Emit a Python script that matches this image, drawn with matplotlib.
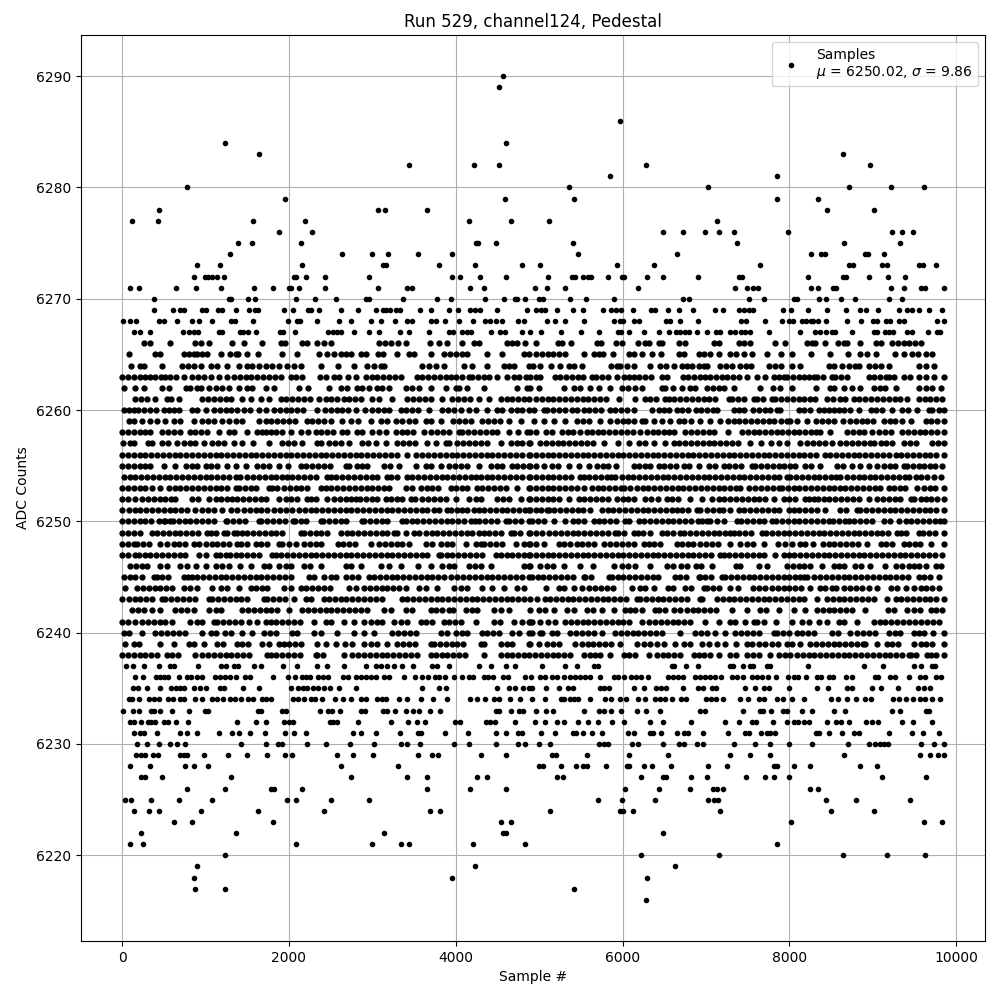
from matplotlib import pyplot as plt
import numpy as np

# sample positions, one list per ADC level
s6290 = [4568]
s6289 = [4520]
s6286 = [5964]
s6284 = [1232, 4604]
s6283 = [1640, 8640]
s6282 = [3440, 4220, 4520, 6276, 8964]
s6281 = [5844, 7848]
s6280 = [776, 5352, 7020, 8712, 9216, 9612]
s6279 = [1952, 4592, 5412, 7848, 8340]
s6278 = [440, 3068, 3152, 3656, 8448, 9012]
s6277 = [116, 428, 1568, 2192, 4160, 4664, 5112, 7128]
s6276 = [1880, 2276, 6480, 6720, 6984, 7152, 7332, 7980, 9228, 9348, 9480]
s6275 = [1388, 1556, 2144, 4244, 4268, 4484, 5400, 7368, 8652, 9324]
s6274 = [1292, 2636, 2996, 3188, 3548, 3956, 5460, 6648, 8256, 8376, 8424, 8904, 8940, 9132]
s6273 = [896, 1172, 2156, 3128, 3164, 3800, 4232, 4796, 5004, 5928, 6372, 7644, 8712, 8760,
         9108, 9168, 9552, 9600, 9756]
s6272 = [860, 992, 1028, 1076, 1136, 1220, 2060, 2084, 2204, 2432, 2960, 3956, 4052, 4292, 4604,
         5100, 5388, 5424, 5520, 5580, 5616, 5820, 5988, 6012, 6288, 6480, 6900, 7392, 7428,
         8220, 8640, 8676, 8952, 9180, 9384]
s6271 = [92, 200, 644, 884, 1184, 1580, 1808, 2000, 2028, 2120, 2432, 3068, 3416, 3476, 4172, 4340,
         4944, 5088, 5304, 6180, 7344, 7488, 7560, 7620, 8256, 8340, 8520, 8556, 9216, 9372,
         9576, 9624, 9850]
s6270 = [380, 1280, 1304, 1508, 1592, 2084, 2312, 2564, 2924, 2960, 3368, 3776, 3944, 4352, 4580,
         4712, 4736, 4832, 4992, 5040, 5364, 5556, 5892, 6720, 6792, 7512, 7692, 8052, 8088,
         8352, 8436, 8616, 8784, 9192, 9348]
s6269 = [380, 612, 692, 740, 956, 1004, 1148, 1196, 1364, 1520, 1592, 1628, 1940, 2048, 2228, 2264,
         2360, 2624, 2828, 3044, 3128, 3164, 3212, 3284, 3332, 3572, 3704, 3920, 4028, 4172,
         4232, 4292, 4496, 4860, 4956, 5016, 5064, 5208, 5400, 5520, 5760, 5856, 5916, 5976,
         6120, 6336, 6384, 6540, 6672, 6840, 7104, 7200, 7392, 7452, 7512, 7560, 7920, 8016,
         8220, 8448, 8676, 8844, 8916, 9060, 9312, 9408, 9468, 9552, 9672, 9828]
s6268 = [12, 92, 164, 440, 500, 656, 836, 920, 1076, 1304, 1352, 1568, 1988, 2096, 2132, 2336, 2600,
         2744, 2984, 3104, 3272, 3416, 3476, 3704, 3764, 3872, 4040, 4208, 4352, 4412, 4484,
         4556, 4748, 4820, 5088, 5184, 5304, 5532, 5892, 5964, 6000, 6132, 6192, 6516, 6564,
         6684, 6900, 7416, 7476, 7704, 7908, 7992, 8040, 8148, 8196, 8256, 8280, 8340, 8436,
         8688, 8856, 9000, 9048, 9156, 9204, 9312, 9372, 9768, 9850]
s6267 = [140, 212, 332, 728, 800, 860, 908, 1160, 1196, 1412, 1448, 1508, 1604, 1892, 1928, 2072,
         2468, 2528, 2576, 2624, 2780, 2960, 3080, 3332, 3440, 3680, 3920, 3968, 4076, 4136,
         4184, 4424, 4532, 4592, 4796, 4896, 5016, 5256, 5496, 5712, 5940, 5976, 6072, 6252,
         6432, 6552, 6636, 6684, 6744, 6792, 6888, 7008, 7116, 7164, 7284, 7344, 7416, 7464,
         7524, 7752, 8124, 8304, 8364, 8436, 8508, 8544, 8748, 9012, 9048, 9144, 9192, 9240,
         9408, 9468, 9660, 9768, 9804]
s6266 = [260, 340, 572, 880, 940, 1040, 1316, 1460, 1676, 1900, 1948, 2160, 2220, 2340, 2420, 2500,
         3080, 3150, 3220, 3308, 3400, 3692, 3800, 3900, 4076, 4220, 4280, 4612, 4680, 4740,
         4832, 4964, 5220, 5272, 5376, 5692, 5740, 5924, 5992, 6180, 6272, 6312, 6432, 6472,
         6672, 6744, 7092, 7152, 7392, 7460, 7532, 7824, 7944, 8212, 8270, 8312, 8432, 8580,
         8650, 8692, 8844, 9032, 9092, 9232, 9300, 9368, 9436, 9504, 9572]
s6265 = [80, 400, 460, 740, 800, 860, 900, 960, 1020, 1180, 1292, 1360, 1388, 1492, 1632, 1920, 2100,
         2360, 2452, 2540, 2628, 2690, 2740, 2860, 2920, 3068, 3132, 3300, 3440, 3500, 3700,
         3860, 3930, 4000, 4070, 4140, 4380, 4560, 4820, 4880, 4960, 5030, 5100, 5170, 5232,
         5312, 5540, 5652, 5720, 5764, 5880, 6072, 6140, 6232, 6352, 6460, 6672, 6740, 6912,
         6980, 7050, 7152, 7292, 7360, 7452, 7556, 7732, 7900, 8032, 8260, 8484, 8700, 8852,
         8930, 9032, 9264, 9372, 9472, 9540, 9632, 9704]
s6264 = [108, 220, 260, 480, 720, 790, 860, 940, 1060, 1132, 1252, 1400, 1500, 1560, 1640, 1720, 1800,
         1880, 1980, 2060, 2140, 2380, 2588, 2780, 2940, 3020, 3100, 3140, 3600, 3680, 3760,
         3860, 4100, 4200, 4380, 4580, 4640, 4700, 4880, 4924, 5004, 5140, 5252, 5352, 5420,
         5512, 5864, 5932, 5972, 6050, 6132, 6332, 6452, 6524, 6612, 6712, 6772, 6832, 6912,
         6980, 7012, 7172, 7240, 7312, 7404, 7480, 7540, 7752, 7832, 7900, 8032, 8124, 8472,
         8540, 8632, 8712, 8790, 8832, 8952, 9020, 9100, 9192, 9552, 9632, 9732]
s6263 = [0, 70, 140, 210, 280, 340, 400, 470, 520, 580, 650, 740, 840, 910, 980, 1060, 1160, 1260,
         1340, 1410, 1480, 1550, 1620, 1690, 1760, 1830, 1900, 2020, 2080, 2160, 2372, 2440,
         2540, 2600, 2708, 2808, 2920, 2990, 3060, 3130, 3200, 3270, 3340, 3532, 3600, 3670,
         3740, 3810, 3880, 3940, 4000, 4080, 4160, 4200, 4270, 4340, 4400, 4500, 4620, 4700,
         4760, 4840, 4892, 4960, 5012, 5192, 5252, 5320, 5390, 5460, 5530, 5632, 5684, 5750,
         5820, 5932, 6012, 6072, 6132, 6200, 6270, 6340, 6472, 6532, 6724, 6790, 6860, 6930,
         6992, 7052, 7120, 7192, 7252, 7320, 7390, 7492, 7612, 7712, 7812, 7880, 7932, 7972,
         8040, 8110, 8180, 8240, 8292, 8332, 8400, 8512, 8552, 8620, 8692, 8952, 9012, 9080,
         9152, 9192, 9252, 9372, 9440, 9552, 9632, 9732, 9852]
s6262 = [20, 160, 260, 480, 560, 772, 820, 900, 940, 1040, 1120, 1200, 1280, 1400, 1500, 1560, 1720,
         1820, 2120, 2228, 2480, 2620, 2700, 2820, 2880, 2960, 3060, 3120, 3200, 3400, 3480,
         3560, 3700, 3880, 4000, 4040, 4140, 4340, 4740, 4860, 4892, 4992, 5292, 5412, 5484,
         5612, 5712, 5852, 5992, 6060, 6152, 6232, 6472, 6512, 6604, 6712, 6812, 6872, 7012,
         7080, 7150, 7220, 7332, 7644, 7804, 7892, 8032, 8320, 8492, 8540, 8652, 8752, 8852,
         9012, 9080, 9150, 9272, 9552, 9632, 9712, 9820]
s6261 = [160, 230, 300, 400, 540, 588, 688, 960, 1030, 1100, 1170, 1240, 1310, 1440, 1540, 1660, 1760,
         1900, 1970, 2040, 2110, 2180, 2250, 2360, 2440, 2510, 2580, 2660, 2720, 2790, 2860,
         3000, 3080, 3240, 3420, 3490, 3560, 3630, 3700, 3840, 3960, 4030, 4100, 4170, 4280,
         4400, 4540, 4610, 4680, 4750, 4820, 4880, 4960, 5030, 5100, 5170, 5240, 5310, 5380,
         5450, 5520, 5590, 5660, 5730, 5800, 5952, 6152, 6272, 6332, 6400, 6512, 6552, 6620,
         6690, 6760, 6830, 6900, 6970, 7040, 7110, 7272, 7312, 7380, 7450, 7572, 7612, 7680,
         7792, 7832, 7900, 7970, 8040, 8110, 8180, 8250, 8312, 8452, 8520, 8612, 8672, 8772,
         8840, 8910, 8980, 9050, 9120, 9190, 9260, 9330, 9412, 9552, 9620, 9690, 9752, 9832]
s6260 = [20, 80, 140, 188, 260, 330, 410, 500, 560, 620, 680, 840, 900, 1000, 1100, 1170, 1240, 1310,
         1380, 1460, 1532, 1640, 1720, 1820, 1890, 1960, 2030, 2100, 2170, 2340, 2428, 2500,
         2580, 2640, 2710, 2800, 2912, 3000, 3070, 3140, 3200, 3340, 3400, 3480, 3550, 3680,
         3840, 3910, 3980, 4060, 4160, 4240, 4380, 4500, 4560, 4660, 4730, 4800, 4880, 4940,
         5052, 5092, 5164, 5240, 5310, 5392, 5452, 5532, 5600, 5670, 5740, 5852, 5912, 5980,
         6050, 6140, 6352, 6432, 6492, 6560, 6652, 6712, 6780, 6884, 6940, 7012, 7080, 7132,
         7332, 7400, 7452, 7564, 7640, 7710, 7772, 7852, 7892, 8112, 8180, 8250, 8352, 8412,
         8480, 8532, 8592, 8660, 8732, 8832, 8972, 9040, 9110, 9232, 9352, 9420, 9532, 9672,
         9712, 9792, 9852]
s6259 = [80, 140, 240, 340, 420, 520, 620, 700, 860, 960, 1030, 1100, 1200, 1280, 1360, 1440, 1640,
         1720, 1780, 1860, 1930, 2000, 2070, 2220, 2280, 2350, 2420, 2500, 2640, 2740, 2828,
         2988, 3100, 3170, 3280, 3360, 3440, 3510, 3640, 3700, 3820, 3972, 4040, 4110, 4180,
         4320, 4390, 4460, 4530, 4640, 4780, 4932, 5060, 5180, 5312, 5452, 5530, 5592, 5732,
         5852, 5932, 6000, 6070, 6140, 6232, 6272, 6372, 6472, 6572, 6672, 6732, 6820, 6932,
         7052, 7164, 7260, 7332, 7400, 7470, 7540, 7610, 7680, 7750, 7820, 7900, 7970, 8012,
         8092, 8212, 8324, 8392, 8460, 8532, 8644, 8732, 8800, 8870, 8932, 9004, 9132, 9200,
         9270, 9352, 9452, 9632, 9700, 9770, 9852]
s6258 = [0, 70, 140, 210, 280, 340, 480, 550, 620, 700, 812, 880, 950, 1020, 1160, 1280, 1340, 1500,
         1620, 1672, 1720, 1780, 1850, 1920, 2020, 2140, 2228, 2320, 2390, 2460, 2530, 2640,
         2700, 2812, 2880, 3000, 3080, 3160, 3280, 3350, 3420, 3490, 3620, 3708, 3780, 3850,
         3920, 4040, 4080, 4150, 4220, 4290, 4360, 4430, 4500, 4640, 4748, 4860, 4892, 4964,
         5084, 5150, 5272, 5340, 5410, 5490, 5572, 5632, 5700, 5770, 5840, 5910, 5980, 6050,
         6120, 6212, 6292, 6360, 6430, 6500, 6560, 6612, 6752, 6820, 6890, 6960, 7030, 7092,
         7260, 7432, 7500, 7570, 7640, 7710, 7780, 7852, 7912, 7980, 8050, 8120, 8190, 8260,
         8320, 8372, 8492, 8692, 8760, 8830, 8900, 8992, 9072, 9140, 9212, 9352, 9420, 9490,
         9560, 9630, 9700, 9770, 9850]
s6257 = [12, 100, 140, 312, 360, 480, 550, 660, 740, 810, 880, 980, 1080, 1150, 1220, 1340, 1440, 1572,
         1760, 1920, 1990, 2060, 2160, 2340, 2380, 2480, 2550, 2620, 2720, 2880, 2950, 3040,
         3160, 3300, 3370, 3440, 3510, 3660, 3760, 3880, 3920, 4020, 4090, 4160, 4230, 4300,
         4370, 4540, 4660, 4730, 4800, 4880, 4892, 5012, 5080, 5150, 5220, 5290, 5360, 5430,
         5500, 5570, 5640, 5772, 5940, 6072, 6192, 6272, 6372, 6512, 6612, 6680, 6750, 6820,
         6890, 6960, 7030, 7100, 7170, 7240, 7310, 7380, 7532, 7660, 7780, 7872, 7972, 8132,
         8212, 8280, 8350, 8432, 8512, 8612, 8680, 8750, 8820, 8890, 8960, 9012, 9092, 9160,
         9232, 9372, 9440, 9512, 9712, 9780, 9850]
s6256 = [0, 70, 140, 210, 280, 350, 420, 490, 560, 630, 700, 770, 840, 910, 980, 1050, 1120, 1190, 1260,
         1330, 1400, 1470, 1540, 1610, 1680, 1750, 1820, 1890, 1960, 2030, 2100, 2170, 2240,
         2310, 2380, 2450, 2520, 2590, 2660, 2730, 2800, 2870, 2940, 3010, 3080, 3150, 3220,
         3290, 3420, 3520, 3600, 3670, 3740, 3810, 3880, 3950, 4020, 4090, 4160, 4230, 4300,
         4370, 4440, 4510, 4580, 4650, 4720, 4790, 4880, 4892, 4960, 5030, 5100, 5170, 5240,
         5310, 5380, 5450, 5520, 5590, 5660, 5730, 5800, 5870, 5940, 6010, 6080, 6150, 6220,
         6290, 6360, 6430, 6500, 6570, 6640, 6710, 6780, 6850, 6920, 6990, 7060, 7130, 7200,
         7270, 7340, 7410, 7480, 7550, 7620, 7690, 7760, 7830, 7900, 7970, 8040, 8110, 8180,
         8250, 8320, 8432, 8492, 8560, 8630, 8700, 8770, 8840, 8910, 8980, 9050, 9120, 9192,
         9272, 9340, 9410, 9480, 9550, 9620, 9690, 9760, 9850]
s6255 = [0, 70, 140, 210, 280, 340, 500, 640, 772, 840, 900, 1000, 1070, 1140, 1252, 1360, 1480, 1620,
         1690, 1760, 1880, 1988, 2140, 2210, 2280, 2350, 2420, 2490, 2680, 2720, 2820, 2880,
         2940, 3140, 3210, 3320, 3520, 3640, 3700, 3820, 3920, 3990, 4060, 4130, 4280, 4420,
         4490, 4560, 4680, 4740, 4810, 4880, 4892, 4960, 5060, 5152, 5220, 5352, 5472, 5592,
         5692, 5760, 5830, 5924, 6132, 6200, 6270, 6332, 6432, 6500, 6570, 6640, 6732, 6792,
         6912, 7032, 7112, 7212, 7280, 7350, 7420, 7552, 7592, 7660, 7730, 7800, 7870, 7940,
         8010, 8072, 8192, 8260, 8372, 8572, 8640, 8752, 8844, 8952, 9052, 9132, 9200, 9270,
         9372, 9412, 9480, 9552, 9612, 9680, 9750, 9832]
s6254 = [20, 90, 160, 230, 300, 370, 440, 510, 580, 650, 720, 790, 860, 930, 1000, 1070, 1140, 1210,
         1280, 1360, 1412, 1500, 1570, 1640, 1710, 1780, 1850, 1920, 1980, 2040, 2110, 2180,
         2250, 2320, 2460, 2500, 2570, 2640, 2710, 2780, 2850, 2920, 2990, 3060, 3180, 3220,
         3290, 3420, 3480, 3550, 3620, 3690, 3760, 3830, 3900, 3970, 4040, 4110, 4180, 4240,
         4300, 4370, 4440, 4510, 4580, 4650, 4720, 4790, 4880, 4892, 4960, 5030, 5100, 5170,
         5240, 5310, 5380, 5492, 5532, 5600, 5670, 5740, 5810, 5860, 5912, 5992, 6060, 6130,
         6200, 6270, 6340, 6410, 6480, 6550, 6620, 6690, 6760, 6830, 6900, 6970, 7040, 7110,
         7180, 7250, 7320, 7390, 7460, 7530, 7600, 7670, 7740, 7810, 7880, 7972, 8012, 8080,
         8150, 8220, 8290, 8360, 8430, 8500, 8560, 8612, 8692, 8760, 8832, 8892, 8960, 9030,
         9100, 9170, 9240, 9310, 9380, 9432, 9512, 9580, 9650, 9732, 9820]
s6253 = [0, 70, 140, 210, 280, 360, 460, 560, 630, 700, 770, 840, 910, 980, 1050, 1120, 1190, 1260, 1360,
         1400, 1470, 1540, 1600, 1760, 1800, 1860, 1940, 2010, 2080, 2150, 2220, 2380, 2440,
         2510, 2580, 2650, 2720, 2790, 2860, 2930, 3000, 3070, 3140, 3200, 3400, 3480, 3580,
         3650, 3720, 3790, 3940, 4000, 4070, 4140, 4260, 4320, 4390, 4460, 4530, 4600, 4740,
         4880, 4892, 4960, 5030, 5100, 5170, 5240, 5312, 5380, 5452, 5540, 5632, 5700, 5770,
         5840, 5910, 5980, 6012, 6092, 6172, 6240, 6310, 6380, 6450, 6520, 6590, 6660, 6730,
         6800, 6870, 6940, 7010, 7080, 7150, 7220, 7290, 7360, 7412, 7512, 7592, 7660, 7730,
         7800, 7872, 7912, 7980, 8050, 8120, 8190, 8260, 8330, 8400, 8470, 8540, 8612, 8672,
         8740, 8810, 8880, 8950, 9020, 9090, 9192, 9252, 9320, 9390, 9532, 9612, 9680, 9750,
         9850]
s6252 = [0, 70, 160, 240, 310, 380, 450, 520, 590, 640, 840, 912, 1040, 1120, 1180, 1260, 1320, 1380,
         1450, 1520, 1590, 1660, 1720, 1880, 1960, 2030, 2100, 2220, 2260, 2330, 2460, 2540,
         2610, 2680, 2740, 2800, 2850, 2920, 2990, 3060, 3160, 3220, 3290, 3360, 3460, 3508,
         3600, 3670, 3740, 3810, 3880, 4000, 4160, 4240, 4300, 4500, 4570, 4640, 4780, 4880,
         4892, 4960, 5030, 5100, 5170, 5240, 5352, 5472, 5540, 5610, 5680, 5750, 5820, 5932,
         6004, 6070, 6140, 6272, 6340, 6420, 6532, 6592, 6660, 6812, 6952, 7072, 7152, 7220,
         7290, 7360, 7430, 7500, 7570, 7640, 7710, 7812, 7932, 8000, 8070, 8192, 8232, 8292,
         8340, 8410, 8480, 8550, 8620, 8690, 8760, 8830, 8952, 9052, 9120, 9190, 9260, 9330,
         9452, 9492, 9572, 9632, 9700, 9770, 9850]
s6251 = [0, 80, 150, 220, 290, 360, 430, 500, 570, 640, 710, 780, 880, 960, 1030, 1100, 1200, 1300, 1380,
         1460, 1532, 1600, 1670, 1740, 1820, 1892, 1960, 2040, 2120, 2188, 2260, 2330, 2400,
         2470, 2540, 2610, 2680, 2750, 2820, 2890, 2960, 3030, 3100, 3170, 3240, 3310, 3380,
         3450, 3520, 3590, 3660, 3740, 3800, 3900, 3940, 4020, 4080, 4140, 4220, 4280, 4340,
         4410, 4480, 4550, 4620, 4690, 4760, 4830, 4880, 4892, 4960, 5020, 5092, 5112, 5180,
         5250, 5320, 5390, 5460, 5530, 5612, 5752, 5820, 5890, 5960, 6030, 6100, 6170, 6240,
         6310, 6380, 6450, 6520, 6592, 6652, 6712, 6780, 6892, 6932, 7012, 7084, 7150, 7200,
         7292, 7392, 7460, 7530, 7600, 7670, 7740, 7810, 7880, 7992, 8052, 8120, 8190, 8260,
         8330, 8432, 8612, 8680, 8812, 8852, 8920, 8990, 9060, 9130, 9200, 9270, 9340, 9410,
         9480, 9550, 9620, 9690, 9760, 9852]
s6250 = [0, 70, 140, 210, 280, 350, 440, 500, 520, 580, 612, 680, 750, 820, 890, 960, 1030, 1100, 1240,
         1260, 1330, 1400, 1470, 1640, 1668, 1740, 1810, 1880, 1952, 2052, 2072, 2140, 2210,
         2380, 2412, 2480, 2550, 2620, 2690, 2880, 2900, 2970, 3040, 3110, 3180, 3360, 3400,
         3470, 3540, 3610, 3680, 3750, 3820, 3890, 3960, 4030, 4100, 4180, 4228, 4280, 4350,
         4420, 4500, 4600, 4640, 4710, 4780, 4880, 4912, 4980, 5060, 5172, 5312, 5404, 5470,
         5540, 5652, 5712, 5780, 5850, 5920, 6032, 6072, 6192, 6260, 6330, 6400, 6470, 6540,
         6610, 6680, 6750, 6820, 6900, 6950, 7012, 7052, 7132, 7220, 7370, 7420, 7490, 7560,
         7630, 7700, 7792, 7844, 7910, 7980, 8050, 8120, 8190, 8260, 8330, 8400, 8472, 8524,
         8600, 8672, 8712, 8780, 8850, 8920, 8990, 9132, 9204, 9312, 9392, 9460, 9530, 9600,
         9670, 9740, 9810, 9850]
s6249 = [0, 70, 140, 210, 360, 420, 490, 560, 630, 700, 770, 840, 910, 1020, 1060, 1130, 1220, 1260, 1340,
         1380, 1440, 1500, 1570, 1640, 1710, 1780, 1850, 1920, 2140, 2180, 2250, 2320, 2390,
         2460, 2620, 2692, 2760, 2830, 2900, 2970, 3040, 3110, 3180, 3260, 3300, 3400, 3500,
         3560, 3640, 3710, 3780, 3850, 3920, 3990, 4060, 4130, 4200, 4280, 4340, 4400, 4470,
         4540, 4660, 4700, 4770, 4880, 4892, 4960, 5030, 5112, 5192, 5260, 5330, 5400, 5470,
         5540, 5610, 5680, 5750, 5820, 5912, 5940, 6012, 6132, 6180, 6250, 6330, 6472, 6532,
         6600, 6692, 6740, 6810, 6880, 6950, 7020, 7090, 7160, 7230, 7292, 7332, 7400, 7470,
         7540, 7672, 7724, 7790, 7860, 7930, 8000, 8070, 8140, 8210, 8280, 8350, 8420, 8490,
         8560, 8630, 8700, 8770, 8840, 8910, 8980, 9052, 9110, 9180, 9292, 9332, 9400, 9552,
         9604, 9670, 9740, 9850]
s6248 = [0, 70, 140, 180, 250, 320, 460, 540, 620, 680, 752, 860, 920, 1000, 1072, 1140, 1210, 1280, 1380,
         1428, 1500, 1600, 1668, 1740, 1880, 1920, 2000, 2080, 2180, 2250, 2320, 2390, 2588,
         2652, 2720, 2790, 2980, 3080, 3150, 3220, 3290, 3360, 3440, 3640, 3712, 3820, 3890,
         3960, 4120, 4240, 4300, 4340, 4410, 4480, 4550, 4720, 4820, 4880, 4892, 4960, 5052,
         5232, 5292, 5372, 5452, 5512, 5580, 5652, 5780, 5850, 5920, 5990, 6060, 6140, 6252,
         6312, 6380, 6450, 6652, 6712, 6780, 6850, 6932, 7000, 7070, 7140, 7292, 7404, 7492,
         7560, 7692, 7860, 7952, 8032, 8132, 8192, 8284, 8404, 8472, 8540, 8612, 8680, 8750,
         8820, 8932, 9092, 9160, 9230, 9372, 9432, 9500, 9570, 9692, 9852]
s6247 = [0, 70, 160, 200, 270, 340, 410, 480, 550, 620, 690, 760, 920, 1000, 1120, 1172, 1240, 1292, 1360,
         1430, 1500, 1570, 1640, 1800, 1840, 1910, 1980, 2050, 2120, 2190, 2260, 2330, 2400,
         2470, 2540, 2610, 2680, 2750, 2820, 2890, 2960, 3030, 3100, 3170, 3240, 3310, 3380,
         3450, 3520, 3590, 3660, 3800, 3820, 3890, 3960, 4030, 4100, 4170, 4240, 4310, 4480,
         4540, 4610, 4680, 4750, 4820, 4880, 4892, 4960, 5030, 5100, 5170, 5240, 5310, 5380,
         5450, 5520, 5590, 5660, 5730, 5800, 5870, 5940, 6010, 6080, 6150, 6220, 6290, 6360,
         6430, 6500, 6570, 6640, 6710, 6780, 6850, 6920, 6990, 7060, 7172, 7212, 7280, 7350,
         7420, 7490, 7560, 7630, 7700, 7832, 7932, 7992, 8060, 8130, 8200, 8270, 8340, 8410,
         8480, 8550, 8620, 8690, 8760, 8830, 8900, 8970, 9040, 9110, 9180, 9250, 9320, 9390,
         9460, 9530, 9600, 9670, 9740, 9832]
s6246 = [100, 170, 240, 300, 460, 540, 700, 780, 892, 1004, 1120, 1200, 1280, 1412, 1540, 1700, 1760, 1880,
         1960, 2020, 2180, 2250, 2380, 2680, 2750, 2860, 3100, 3200, 3340, 3548, 3700, 3840,
         3920, 3980, 4160, 4230, 4300, 4420, 4820, 4880, 4892, 5012, 5092, 5160, 5292, 5492,
         5640, 5892, 5992, 6060, 6152, 6332, 6532, 6600, 6700, 6772, 6884, 6940, 7072, 7364,
         7404, 7632, 7732, 7972, 8040, 8110, 8180, 8250, 8392, 8532, 8600, 8652, 8792, 8860,
         8964, 9140, 9272, 9352, 9432, 9492, 9552, 9632, 9752, 9812]
s6245 = [20, 90, 160, 240, 380, 420, 480, 550, 740, 790, 840, 900, 970, 1040, 1110, 1180, 1250, 1320, 1390,
         1460, 1530, 1600, 1670, 1740, 1810, 1880, 1950, 2020, 2240, 2300, 2420, 2500, 2570,
         2680, 2760, 2830, 2960, 3020, 3090, 3160, 3230, 3300, 3370, 3440, 3510, 3580, 3650,
         3720, 3790, 3860, 3940, 4020, 4090, 4160, 4230, 4300, 4370, 4440, 4510, 4580, 4650,
         4720, 4790, 4880, 4912, 4980, 5050, 5120, 5190, 5260, 5330, 5400, 5532, 5552, 5620,
         5832, 5872, 5940, 6010, 6080, 6150, 6220, 6290, 6360, 6430, 6632, 6692, 6760, 6912,
         6932, 6992, 7060, 7192, 7232, 7300, 7370, 7440, 7510, 7580, 7650, 7720, 7790, 7860,
         7932, 8000, 8070, 8132, 8172, 8212, 8292, 8372, 8440, 8510, 8580, 8650, 8720, 8790,
         8860, 8930, 9000, 9070, 9140, 9210, 9280, 9350, 9420, 9552, 9612, 9680, 9792]
s6244 = [40, 180, 250, 320, 390, 460, 530, 600, 740, 820, 900, 1080, 1180, 1260, 1400, 1540, 1610, 1680,
         1740, 1940, 2020, 2140, 2210, 2280, 2350, 2420, 2490, 2720, 2800, 2900, 2970, 3040,
         3110, 3180, 3250, 3320, 3400, 3560, 3640, 3772, 3980, 4060, 4140, 4320, 4440, 4580,
         4740, 4820, 5084, 5232, 5300, 5412, 5512, 5592, 5672, 5740, 5810, 5880, 6112, 6204,
         6270, 6372, 6540, 6610, 6752, 6820, 6972, 7012, 7080, 7150, 7292, 7380, 7564, 7640,
         7712, 7792, 7860, 7930, 8000, 8070, 8140, 8252, 8364, 8430, 8512, 8564, 8660, 8732,
         8800, 8870, 8950, 9052, 9220, 9292, 9392, 9492, 9572, 9640, 9710, 9792]
s6243 = [0, 80, 150, 220, 290, 360, 480, 520, 590, 660, 730, 800, 880, 1040, 1080, 1150, 1220, 1290, 1360,
         1430, 1500, 1700, 1740, 1810, 1880, 1950, 2060, 2200, 2270, 2420, 2480, 2550, 2620,
         2690, 2760, 2830, 2900, 2970, 3040, 3110, 3360, 3420, 3490, 3560, 3630, 3700, 3770,
         3840, 3910, 3980, 4050, 4120, 4190, 4260, 4330, 4400, 4470, 4540, 4610, 4680, 4750,
         4820, 4892, 4972, 5072, 5132, 5200, 5270, 5340, 5410, 5480, 5550, 5620, 5690, 5760,
         5830, 5900, 5970, 6040, 6172, 6212, 6280, 6350, 6420, 6490, 6560, 6630, 6700, 6770,
         6932, 6952, 7132, 7200, 7270, 7340, 7410, 7480, 7550, 7620, 7690, 7760, 7830, 7900,
         7970, 8040, 8110, 8180, 8332, 8452, 8520, 8590, 8660, 8730, 8800, 8870, 8940, 9010,
         9172, 9272, 9340, 9410, 9480, 9550, 9620, 9690, 9760, 9852]
s6242 = [120, 190, 260, 360, 460, 640, 710, 780, 860, 1040, 1120, 1180, 1440, 1510, 1580, 1650, 1720, 1790,
         1860, 2000, 2160, 2230, 2300, 2370, 2440, 2510, 2580, 2650, 2720, 2790, 2860, 2930,
         3140, 3220, 3400, 3470, 3700, 3760, 3840, 3920, 3972, 4120, 4190, 4260, 4460, 4540,
         4640, 4892, 4992, 5072, 5180, 5332, 5412, 5572, 5640, 5752, 5892, 6032, 6092, 6152,
         6232, 6392, 6432, 6512, 6612, 6684, 6772, 6840, 6910, 6980, 7050, 7120, 7312, 7492,
         7652, 7720, 7872, 8052, 8192, 8332, 8400, 8470, 8540, 8610, 8680, 8750, 8912, 9180,
         9250, 9412, 9492, 9560, 9692, 9752, 9832]
s6241 = [0, 70, 160, 240, 310, 380, 450, 520, 600, 820, 900, 960, 1100, 1140, 1210, 1280, 1350, 1420, 1520,
         1620, 1720, 1780, 1850, 1920, 1990, 2060, 2130, 2300, 2440, 2510, 2660, 2780, 2900,
         2980, 3050, 3120, 3260, 3340, 3410, 3580, 3640, 3710, 3860, 3920, 3990, 4060, 4240,
         4460, 4530, 4700, 4800, 4880, 4892, 4912, 5012, 5100, 5192, 5312, 5380, 5450, 5520,
         5590, 5660, 5730, 5800, 5870, 5940, 6010, 6080, 6232, 6312, 6392, 6460, 6530, 6600,
         6670, 6740, 6810, 6992, 7152, 7292, 7352, 7472, 7572, 7612, 7692, 7844, 8032, 8152,
         8232, 8352, 8452, 8592, 8660, 8812, 9012, 9080, 9150, 9220, 9290, 9360, 9432, 9500,
         9572, 9652, 9720, 9792]
s6240 = [20, 80, 240, 400, 470, 540, 610, 680, 750, 960, 1060, 1120, 1230, 1300, 1440, 1560, 1700, 1770,
         1840, 2040, 2100, 2300, 2380, 2580, 2780, 2900, 3020, 3240, 3310, 3380, 3450, 3520,
         3820, 3900, 4000, 4070, 4140, 4320, 4380, 4450, 4520, 4680, 4760, 4880, 4912, 5012,
         5032, 5152, 5212, 5372, 5440, 5510, 5580, 5652, 5752, 5912, 5980, 6050, 6120, 6190,
         6260, 6332, 6400, 6472, 6684, 6872, 6940, 7010, 7112, 7232, 7352, 7420, 7490, 7560,
         7630, 7812, 7852, 7920, 8000, 8092, 8152, 8220, 8292, 8512, 8580, 8732, 8812, 8880,
         8950, 9020, 9192, 9260, 9330, 9492, 9552, 9612, 9724, 9852]
s6239 = [40, 140, 200, 460, 620, 800, 860, 980, 1140, 1210, 1380, 1440, 1510, 1680, 1760, 1880, 1940, 2000,
         2070, 2140, 2340, 2440, 2560, 2672, 2760, 2900, 2980, 3060, 3180, 3300, 3370, 3440,
         3510, 3700, 3740, 3810, 3880, 3950, 4020, 4090, 4300, 4340, 4540, 4610, 4680, 4880,
         4892, 4992, 5092, 5160, 5232, 5432, 5512, 5580, 5650, 5720, 5790, 5860, 5972, 6172,
         6260, 6330, 6412, 6492, 6632, 6740, 6810, 6952, 7032, 7132, 7232, 7364, 7492, 7552,
         7632, 7712, 7792, 7860, 7972, 8032, 8132, 8252, 8320, 8390, 8460, 8530, 8600, 8670,
         8740, 8812, 8880, 8912, 9052, 9164, 9230, 9300, 9492, 9572, 9640, 9710, 9852]
s6238 = [0, 70, 140, 210, 280, 350, 420, 540, 600, 670, 880, 960, 1030, 1100, 1170, 1240, 1310, 1380, 1450,
         1520, 1740, 1780, 1850, 1920, 1990, 2060, 2130, 2320, 2340, 2410, 2660, 2760, 2830,
         2900, 2970, 3040, 3110, 3180, 3250, 3320, 3390, 3460, 3530, 3700, 3760, 3830, 3900,
         3970, 4040, 4110, 4340, 4540, 4610, 4680, 4750, 4820, 4880, 4952, 5020, 5090, 5160,
         5230, 5300, 5370, 5532, 5612, 5672, 5732, 5844, 6012, 6080, 6150, 6312, 6412, 6480,
         6550, 6620, 6690, 6852, 6912, 6980, 7050, 7152, 7292, 7360, 7492, 7564, 7640, 7772,
         7872, 7952, 8012, 8092, 8160, 8230, 8300, 8370, 8440, 8510, 8580, 8650, 8720, 8790,
         8860, 8930, 9000, 9070, 9140, 9210, 9280, 9350, 9432, 9452, 9520, 9652, 9692, 9760,
         9850]
s6237 = [44, 128, 260, 440, 572, 620, 908, 1184, 1244, 1340, 1388, 1580, 1664, 1928, 2096, 2336, 2456, 2660,
         2924, 3044, 3104, 3176, 3260, 3356, 3488, 3716, 3776, 3920, 4280, 4424, 4604, 4712,
         5028, 5304, 5448, 5652, 5700, 6588, 6612, 6756, 6900, 7284, 7320, 7440, 7524, 7560,
         7728, 7764, 8220, 8892, 9120, 9492, 9576, 9708, 9744]
s6236 = [152, 248, 404, 452, 500, 548, 680, 776, 824, 896, 956, 1112, 1172, 1232, 1292, 1364, 1472, 1532,
         1808, 1988, 2072, 2156, 2204, 2252, 2348, 2408, 2468, 2648, 2708, 2804, 2864, 2924,
         2984, 3044, 3140, 3200, 3380, 3512, 3596, 3668, 3752, 3800, 3872, 3980, 4076, 4160,
         4208, 4340, 4388, 4448, 4568, 4628, 4832, 4908, 5004, 5064, 5148, 5208, 5292, 5364,
         5424, 5484, 5544, 5604, 5724, 5892, 5940, 6012, 6096, 6156, 6216, 6300, 6540, 6600,
         6660, 6720, 6864, 6924, 6984, 7044, 7104, 7176, 7308, 7368, 7440, 7548, 7608, 7668,
         7740, 7836, 7980, 8052, 8100, 8196, 8328, 8376, 8472, 8520, 8676, 8748, 9024, 9060,
         9204, 9264, 9432, 9564, 9624, 9756, 9816]
s6235 = [128, 188, 296, 452, 584, 644, 692, 740, 860, 932, 1004, 1172, 1220, 1448, 1640, 2024, 2108, 2168,
         2216, 2288, 2348, 2420, 2492, 2600, 2804, 3596, 3800, 3884, 4496, 4640, 4712, 4808,
         4880, 4920, 5076, 5232, 5340, 5400, 5724, 5772, 5832, 6132, 6252, 6396, 6456, 6516,
         6720, 6900, 6960, 7068, 7116, 7464, 7584, 7692, 7752, 8000, 8328, 8460, 8688, 8748,
         8988, 9096, 9300, 9540, 9612, 9684]
s6234 = [80, 116, 200, 320, 380, 440, 548, 608, 692, 740, 872, 956, 1076, 1136, 1208, 1292, 1352, 1424, 1508,
         1568, 1676, 1724, 1784, 2048, 2108, 2180, 2264, 2312, 2396, 2552, 2648, 2744, 2864,
         2924, 3056, 3116, 3164, 3320, 3416, 3584, 3728, 3896, 4172, 4256, 4352, 4460, 4520,
         4652, 4772, 4920, 5064, 5256, 5292, 5364, 5412, 5460, 5604, 5784, 5856, 5964, 6036,
         6180, 6264, 6384, 6444, 6504, 6588, 6696, 6756, 7000, 7056, 7116, 7200, 7404, 7500,
         7632, 7692, 7848, 7920, 8028, 8172, 8496, 8580, 8696, 8796, 8904, 8976, 9240, 9312,
         9396, 9480, 9564, 9624, 9708, 9804]
s6233 = [8, 128, 200, 344, 380, 452, 596, 800, 992, 1028, 1628, 1664, 1916, 1964, 2372, 2468, 2516, 2612,
         2864, 2912, 3128, 3176, 3272, 3404, 3488, 3560, 3692, 3812, 4484, 4520, 4664, 4760,
         4808, 4956, 5076, 5160, 5532, 5712, 5772, 5856, 5976, 6168, 6276, 6444, 6924, 6984,
         7440, 7644, 7680, 7776, 7920, 7968, 8148, 8268, 8532, 8664, 9228, 9324, 9636, 9672]
s6232 = [92, 140, 224, 308, 344, 392, 500, 548, 644, 788, 1376, 1604, 1724, 1940, 2000, 2048, 2492, 2528,
         2576, 2828, 3224, 3428, 3536, 3632, 3992, 4052, 4364, 4412, 4472, 4712, 4944, 5064,
         5208, 5292, 5460, 5580, 5700, 5868, 6012, 6324, 6480, 6816, 7224, 7392, 7548, 7596,
         7800, 7968, 8052, 8100, 8172, 8232, 8448, 8556, 8616, 8712, 8916, 8988, 9060, 9348,
         9480, 9708]
s6231 = [140, 212, 260, 416, 692, 776, 896, 1160, 1316, 1400, 1532, 1712, 1952, 2060, 2204, 2768, 2864, 3044,
         3332, 3548, 3584, 3872, 4148, 4484, 4604, 4748, 4796, 5016, 5184, 5400, 5436, 5520,
         5628, 5748, 6060, 6132, 6324, 6360, 6456, 6648, 6732, 6780, 6960, 7260, 7464, 7512,
         7656, 7728, 7764, 7824, 8316, 8352, 8472, 8632, 8772, 8832, 9192, 9468, 9600, 9792]
s6230 = [176, 296, 440, 572, 656, 752, 1424, 1724, 1868, 1916, 2216, 2444, 2732, 3020, 3344, 3416, 3572, 3980,
         4160, 4484, 4748, 4832, 4992, 5124, 5712, 5772, 5820, 6108, 6180, 6480, 6672, 6732,
         6888, 6960, 7332, 7584, 7764, 7992, 8268, 8700, 8952, 9024, 9084, 9132, 9180, 9576,
         9732, 9852]
s6229 = [164, 224, 272, 368, 428, 692, 740, 776, 980, 1268, 1496, 1736, 1952, 2036, 2576, 2768, 3008, 3548,
         3716, 3788, 4304, 4604, 5148, 5196, 5568, 6072, 6540, 7284, 7524, 7764, 8652, 9564,
         9684, 9780, 9852]
s6228 = [92, 332, 752, 860, 1028, 2624, 3308, 4992, 5040, 5256, 5436, 5520, 5568, 5796, 6048, 6072, 6252,
         6348, 6576, 7020, 7248, 7812, 7848, 8052, 8244, 8844, 9048]
s6227 = [224, 272, 476, 1304, 2744, 3416, 3656, 4256, 4376, 5208, 5280, 6216, 6480, 6516, 6816, 7008, 7476,
         7704, 7812, 7992, 9108, 9636]
s6226 = [776, 1232, 1784, 1820, 2156, 3656, 4172, 4604, 6024, 6432, 6804, 7080, 7128, 7200, 8244, 8340]
s6225 = [32, 104, 344, 680, 1076, 1976, 2084, 2504, 2960, 5700, 5988, 6384, 7020, 7092, 7140, 8436, 8796,
         9444]
s6224 = [140, 320, 440, 944, 1628, 2420, 3692, 3812, 5124, 5964, 6000, 6120, 7164, 8496, 9012]
s6223 = [620, 836, 1808, 4544, 4664, 8016, 9612, 9828]
s6222 = [224, 1364, 3140, 4568, 4604, 6480]
s6221 = [92, 248, 2084, 2996, 3344, 3440, 4208, 4832, 7848]
s6220 = [1232, 6216, 7152, 8640, 9168, 9624]
s6219 = [896, 4232, 6624]
s6218 = [860, 3956, 6288]
s6217 = [872, 1232, 5412]
s6216 = [6276]

levels = [6290, 6289, 6286, 6284, 6283, 6282, 6281, 6280, 6279, 6278, 6277, 6276, 6275, 6274, 6273, 6272,
          6271, 6270, 6269, 6268, 6267, 6266, 6265, 6264, 6263, 6262, 6261, 6260, 6259, 6258, 6257,
          6256, 6255, 6254, 6253, 6252, 6251, 6250, 6249, 6248, 6247, 6246, 6245, 6244, 6243, 6242,
          6241, 6240, 6239, 6238, 6237, 6236, 6235, 6234, 6233, 6232, 6231, 6230, 6229, 6228, 6227,
          6226, 6225, 6224, 6223, 6222, 6221, 6220, 6219, 6218, 6217, 6216]
rows = [s6290, s6289, s6286, s6284, s6283, s6282, s6281, s6280, s6279, s6278, s6277, s6276, s6275, s6274,
        s6273, s6272, s6271, s6270, s6269, s6268, s6267, s6266, s6265, s6264, s6263, s6262, s6261,
        s6260, s6259, s6258, s6257, s6256, s6255, s6254, s6253, s6252, s6251, s6250, s6249, s6248,
        s6247, s6246, s6245, s6244, s6243, s6242, s6241, s6240, s6239, s6238, s6237, s6236, s6235,
        s6234, s6233, s6232, s6231, s6230, s6229, s6228, s6227, s6226, s6225, s6224, s6223, s6222,
        s6221, s6220, s6219, s6218, s6217, s6216]

sample = np.concatenate([np.array(r) for r in rows])
counts = np.concatenate([np.full(len(r), lv) for r, lv in zip(rows, levels)])

# the middle rows were read with fewer points than the original has, a slightly bigger dot closes the runs
middle = (counts >= 6238) & (counts <= 6266)

plt.figure(figsize=(10, 10), dpi=100)
plt.plot(sample[~middle], counts[~middle], 'k.', label='Samples\n$\\mu$ = 6250.02, $\\sigma$ = 9.86')
plt.plot(sample[middle], counts[middle], 'k.', markersize=7)
plt.title('Run 529, channel124, Pedestal')
plt.xlabel('Sample #')
plt.ylabel('ADC Counts')
plt.grid(True)
plt.legend(loc='upper right')
plt.subplots_adjust(left=0.081, right=0.985, top=0.965, bottom=0.059)
plt.savefig('out.png')
